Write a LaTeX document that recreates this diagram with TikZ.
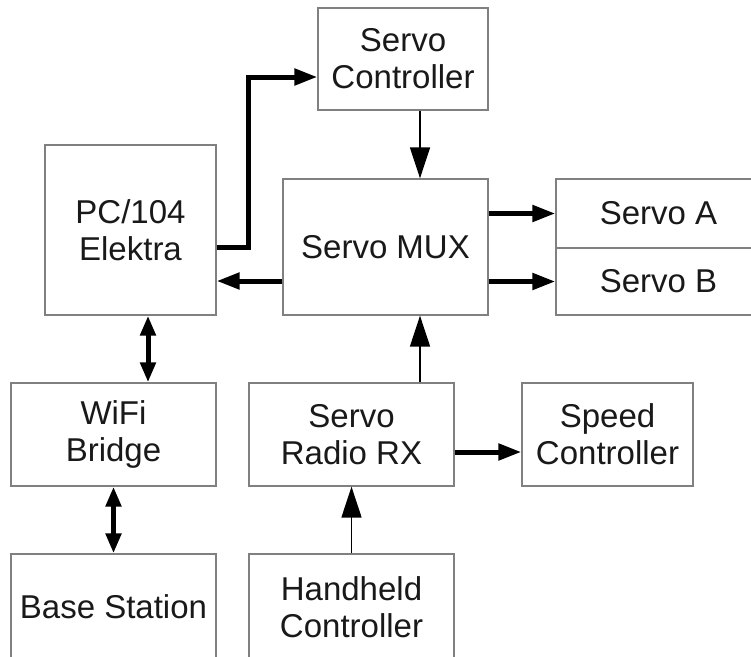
\documentclass[tikz,border=0pt]{standalone}
\usepackage{fontspec}
\setmainfont{Liberation Sans}
\usetikzlibrary{arrows.meta}

\begin{document}
\begin{tikzpicture}[x=1pt, y=-1pt,
                    blk/.style={draw=black!50, line width=1.3pt, align=center,
                                inner sep=0pt, text=black!90,
                                font=\fontsize{33}{37}\selectfont},
                    thk/.style={line width=5pt, -{Triangle[length=23pt,width=16pt]}},
                    dbl/.style={line width=5pt, {Triangle[length=20pt,width=15pt]}-{Triangle[length=20pt,width=15pt]}},
                    thn/.style={line width=1.5pt, -{Triangle[length=31pt,width=20pt]}}]

\fill[white] (0,0) rectangle (751,656);
\path[use as bounding box, clip] (0,0) rectangle (751,656);

\node[blk, minimum width=171pt, minimum height=170pt] (pc) at (130.5,230) {PC/104\\Elektra};
\node[blk, minimum width=170pt, minimum height=102pt] (ctrl) at (403,59) {Servo\\Controller};
\node[blk, minimum width=205pt, minimum height=136pt] (mux) at (385.5,247) {Servo MUX};
\node[blk, minimum width=205pt, minimum height=69pt] (srvA) at (658.5,213.5) {Servo A};
\node[blk, minimum width=205pt, minimum height=67pt] (srvB) at (658.5,281.5) {Servo B};
\node[blk, minimum width=205pt, minimum height=103pt] (wifi) at (113.5,434.5) {WiFi\\Bridge};
\node[blk, minimum width=205pt, minimum height=103pt] (rx) at (351.5,434.5) {Servo\\Radio RX};
\node[blk, minimum width=171pt, minimum height=103pt] (speed) at (607.5,434.5) {Speed\\Controller};
\node[blk, minimum width=205pt, minimum height=106pt] (base) at (113.5,607) {Base Station};
\node[blk, minimum width=205pt, minimum height=106pt] (hand) at (351.5,607) {Handheld\\Controller};

% thick links
\draw[thk] ([yshift=-17pt]pc.east) -- ++(32,0) |- ([yshift=-18pt]ctrl.west);
\draw[thk] ([yshift=-34pt]mux.west) -- ([yshift=-34pt]mux.west -| pc.east);
\draw[thk] (srvA.west -| mux.east) -- (srvA.west);
\draw[thk] (srvB.west -| mux.east) -- (srvB.west);
\draw[thk] ([yshift=-17.5pt]rx.east) -- ([yshift=-17.5pt]rx.east -| speed.west);
\draw[dbl] ([xshift=17.5pt]pc.south) -- ([xshift=17.5pt]pc.south |- wifi.north);
\draw[dbl] (wifi.south) -- (base.north);

% thin links
\draw[thn] ([xshift=17pt]ctrl.south) -- ([xshift=17pt]ctrl.south |- mux.north);
\draw[thn] ([xshift=68.5pt]rx.north) -- ([xshift=68.5pt]rx.north |- mux.south);
\draw[thn] (hand.north) -- (rx.south);
\end{tikzpicture}
\end{document}
